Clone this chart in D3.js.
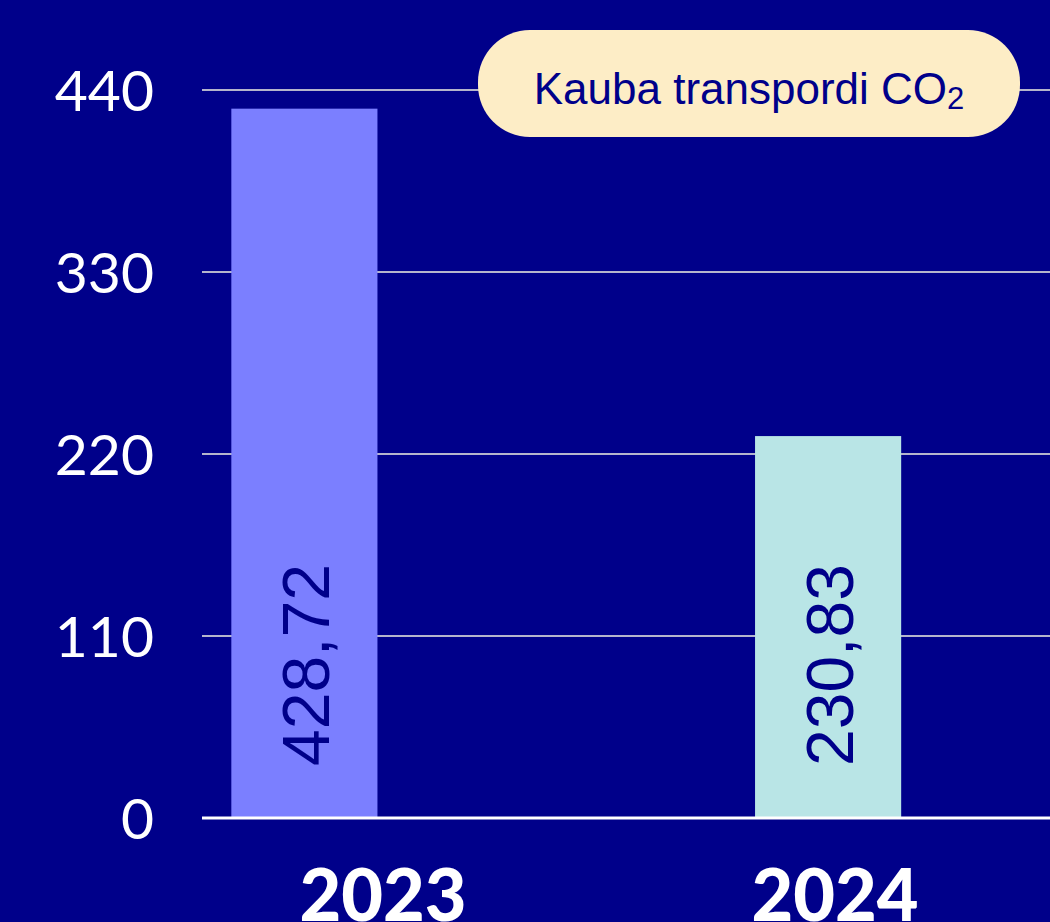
<!DOCTYPE html>
<html>
<head>
<meta charset="utf-8">
<script src="https://cdn.jsdelivr.net/npm/d3@7"></script>
<style>
  html, body { margin: 0; padding: 0; background: #00008a; }
  svg { display: block; }
</style>
</head>
<body>
<svg id="chart"></svg>
<script>
const years = [ "2023", "2024" ];
const values = [ 428.72, 230.83 ];
const valueLabels = [ "428,72", "230,83" ];
const barColors = [ "#7b7fff", "#b9e5e6" ];
const yTicks = [ 0, 110, 220, 330, 440 ];
const legendText = "Kauba transpordi CO";

const width = 1050, height = 922;
const svg = d3.select( "#chart" ).attr( "width", width ).attr( "height", height );

const y = d3.scaleLinear().domain( [ 0, 440 ] ).range( [ 818, 90 ] );
const x = d3.scaleBand().domain( years ).range( [ 202, 930.5 ] )
    .paddingInner( 0.721 ).paddingOuter( 0.056 );
// year captions sit on their own positions below the axis
const xLabel = d3.scalePoint().domain( years ).range( [ 383, 835 ] );

// gridlines
svg.append( "g" )
    .selectAll( "line" )
    .data( yTicks.filter( d => d > 0 ) )
    .enter()
    .append( "line" )
    .attr( "x1", 202 ).attr( "x2", width )
    .attr( "y1", d => y( d ) ).attr( "y2", d => y( d ) )
    .attr( "stroke", "#b4b4cc" )
    .attr( "stroke-width", 2 );

// y tick labels
svg.append( "g" )
    .selectAll( "text" )
    .data( yTicks )
    .enter()
    .append( "text" )
    .attr( "x", 154 )
    .attr( "y", d => y( d ) )
    .attr( "dy", "0.36em" )
    .attr( "text-anchor", "end" )
    .attr( "fill", "#ffffff" )
    .style( "font-family", "Lato, 'Open Sans', sans-serif" )
    .style( "font-weight", 400 )
    .style( "font-size", "57px" )
    .text( d => d );

// bars
svg.append( "g" )
    .selectAll( "rect" )
    .data( values )
    .enter()
    .append( "rect" )
    .attr( "x", ( d, i ) => x( years[ i ] ) )
    .attr( "y", d => y( d ) )
    .attr( "width", x.bandwidth() )
    .attr( "height", d => y( 0 ) - y( d ) )
    .attr( "fill", ( d, i ) => barColors[ i ] );

// zero line
svg.append( "line" )
    .attr( "x1", 202 ).attr( "x2", width )
    .attr( "y1", y( 0 ) ).attr( "y2", y( 0 ) )
    .attr( "stroke", "#ffffff" )
    .attr( "stroke-width", 3 );

// value labels inside bars
svg.append( "g" )
    .selectAll( "text" )
    .data( valueLabels )
    .enter()
    .append( "text" )
    .attr( "transform", ( d, i ) =>
        `translate(${ x( years[ i ] ) + x.bandwidth() / 2 + 25 },${ y( 0 ) - 52 }) rotate(-90)` )
    .attr( "fill", "#00008a" )
    .style( "font-family", "'Liberation Sans', Arial, sans-serif" )
    .style( "font-size", "66px" )
    .text( d => d );

// year labels
svg.append( "g" )
    .selectAll( "text" )
    .data( years )
    .enter()
    .append( "text" )
    .attr( "x", d => xLabel( d ) )
    .attr( "y", 921 )
    .attr( "text-anchor", "middle" )
    .attr( "fill", "#ffffff" )
    .style( "font-family", "Lato, 'Open Sans', sans-serif" )
    .style( "font-weight", 900 )
    .style( "font-size", "72px" )
    .text( d => d );

// legend pill
const legend = svg.append( "g" );
legend.append( "rect" )
    .attr( "x", 478 ).attr( "y", 30 )
    .attr( "width", 542 ).attr( "height", 107 )
    .attr( "rx", 52 ).attr( "ry", 52 )
    .attr( "fill", "#fdedc6" );
const lt = legend.append( "text" )
    .attr( "x", 749 ).attr( "y", 104 )
    .attr( "text-anchor", "middle" )
    .attr( "fill", "#00008a" )
    .style( "font-family", "'Liberation Sans', Arial, sans-serif" )
    .style( "font-size", "44px" );
lt.append( "tspan" ).text( legendText );
lt.append( "tspan" ).attr( "dy", 5 ).style( "font-size", "31px" ).text( "2" );
</script>
</body>
</html>
